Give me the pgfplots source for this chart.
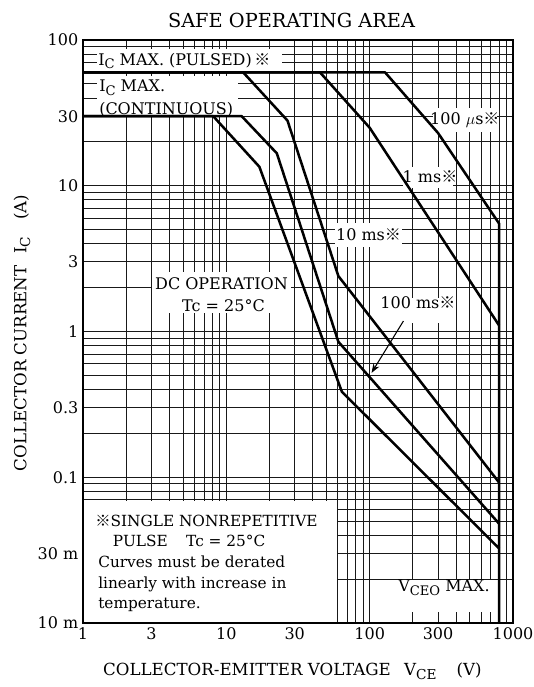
\documentclass[border=0pt]{standalone}
\usepackage{fontspec}
\setmainfont{DejaVu Serif}
\newfontfamily\cjk{Noto Sans CJK JP}
\usepackage{pgfplots}
\pgfplotsset{compat=1.18}
\usetikzlibrary{arrows.meta}
\newcommand{\kome}{{\cjk ※}}
\newcommand{\sub}[1]{\raisebox{-0.45ex}{\scalebox{0.82}{#1}}}
\newcommand{\titlefs}{\fontsize{14.5}{17}\selectfont}
\newcommand{\labfs}{\fontsize{12.5}{15}\selectfont}
\newcommand{\txtfs}{\fontsize{12}{14}\selectfont}
\newcommand{\notefs}{\fontsize{11.5}{14}\selectfont}
\begin{document}
\begin{tikzpicture}
\begin{axis}[
  xmode=log, ymode=log,
  scale only axis, width=322.5pt, height=437.25pt,
  xmin=1, xmax=1000, ymin=0.01, ymax=100,
  xtick={1,3,10,30,100,300,1000},
  xticklabels={1,3,10,30,100,300,1000},
  minor xtick={2,4,5,6,7,8,9,20,40,50,60,70,80,90,200,400,500,600,700,800,900},
  ytick={0.01,0.03,0.1,0.3,1,3,10,30,100},
  yticklabels={10 m,30 m,0.1,0.3,1,3,10,30,100},
  minor ytick={0.02,0.04,0.05,0.06,0.07,0.08,0.09,0.2,0.4,0.5,0.6,0.7,0.8,0.9,2,4,5,6,7,8,9,20,40,50,60,70,80,90},
  grid=both,
  major grid style={black!90,line width=0.7pt},
  minor grid style={black!90,line width=0.7pt},
  major tick length=0pt, minor tick length=0pt,
  tick label style={font=\fontsize{12}{14}\selectfont},
  axis line style={line width=1.5pt},
  clip=false,
]
\coordinate (SW) at (rel axis cs:0,0);
\coordinate (NE) at (rel axis cs:1,1);
% white label areas
\fill[white] (rel axis cs:0.0326,0.946) rectangle (rel axis cs:0.4628,0.9846);
\fill[white] (rel axis cs:0.0326,0.8700) rectangle (rel axis cs:0.3605,0.9390);
\fill[white] (rel axis cs:0.814,0.8422) rectangle (rel axis cs:0.962,0.8834);
\fill[white] (rel axis cs:0.7442,0.7461) rectangle (rel axis cs:0.8605,0.7822);
\fill[white] (rel axis cs:0.586,0.645) rectangle (rel axis cs:0.7419,0.686);
\fill[white] (rel axis cs:0.1605,0.5317) rectangle (rel axis cs:0.4837,0.602);
\fill[white] (rel axis cs:0.6953,0.5146) rectangle (rel axis cs:0.8605,0.5575);
\fill[white] (rel axis cs:0.714,0.0189) rectangle (rel axis cs:0.962,0.0738);
\fill[white] (rel axis cs:0,0) rectangle (rel axis cs:0.5915,0.209);
% curves
\addplot[black, line width=1.9pt, line join=round] coordinates {(1,30) (8.1,30) (17,13.5) (64,0.386) (800,0.0325)};
\addplot[black, line width=1.9pt, line join=round] coordinates {(1,30) (12.8,30) (22.5,16.7) (60.5,0.85) (800,0.048)};
\addplot[black, line width=1.9pt, line join=round] coordinates {(1,60) (13.1,60) (26.7,28) (60.5,2.4) (800,0.092)};
\addplot[black, line width=1.9pt, line join=round] coordinates {(1,60) (45,60) (100,25) (800,1.1)};
\addplot[black, line width=1.9pt, line join=round] coordinates {(1,60) (128,60) (300,23) (800,5.5) (800,0.01)};
\draw[-{Stealth[length=7pt,width=5pt]}, line width=0.8pt] (axis cs:172,1.18) -- (axis cs:103,0.52);
% texts
\node[font=\txtfs, anchor=west, inner sep=0pt] at (rel axis cs:0.0349,0.964) {I\sub{C} MAX. (PULSED)\,\kome};
\node[font=\txtfs, anchor=west, inner sep=0pt] at (rel axis cs:0.0372,0.9175) {I\sub{C} MAX.};
\node[font=\txtfs, anchor=west, inner sep=0pt] at (rel axis cs:0.0372,0.8805) {(CONTINUOUS)};
\node[font=\txtfs, inner sep=0pt] at (rel axis cs:0.888,0.8628) {100 $\mu$s\kome};
\node[font=\txtfs, inner sep=0pt] at (rel axis cs:0.807,0.7650) {1 ms\kome};
\node[font=\txtfs, inner sep=0pt] at (rel axis cs:0.664,0.6655) {10 ms\kome};
\node[font=\txtfs, inner sep=0pt] at (rel axis cs:0.322,0.5823) {DC OPERATION};
\node[font=\txtfs, inner sep=0pt] at (rel axis cs:0.3267,0.5446) {Tc = 25°C};
\node[font=\txtfs, inner sep=0pt] at (rel axis cs:0.779,0.5489) {100 ms\kome};
\node[font=\txtfs, inner sep=0pt] at (rel axis cs:0.8395,0.060) {V\sub{CEO} MAX.};
\node[font=\notefs, anchor=base west, inner sep=0pt] at (rel axis cs:0.0279,0.1652) {\kome SINGLE NONREPETITIVE};
\node[font=\notefs, anchor=base west, inner sep=0pt] at (rel axis cs:0.0691,0.1309) {PULSE\hspace{1.2em}Tc = 25°C};
\node[font=\notefs, anchor=base west, inner sep=0pt] at (rel axis cs:0.0349,0.0955) {Curves must be derated};
\node[font=\notefs, anchor=base west, inner sep=0pt] at (rel axis cs:0.0349,0.0600) {linearly with increase in};
\node[font=\notefs, anchor=base west, inner sep=0pt] at (rel axis cs:0.0349,0.0252) {temperature.};
\node[font=\titlefs] at (rel axis cs:0.4849,1.0343) {SAFE OPERATING AREA};
\node[font=\labfs] at (rel axis cs:0.4869,-0.0835) {COLLECTOR-EMITTER VOLTAGE\hspace{0.8em}V\sub{CE}\hspace{1.2em}(V)};
\node[font=\labfs, rotate=90] at (rel axis cs:-0.1419,0.4974) {COLLECTOR CURRENT\hspace{0.7em}I\sub{C}\hspace{1em}(A)};
\draw[line width=1.5pt] (rel axis cs:0,0) rectangle (rel axis cs:1,1);
\end{axis}
\pgfresetboundingbox
\path[use as bounding box] ([xshift=-62.25pt,yshift=-48pt]SW) rectangle ([xshift=15pt,yshift=30pt]NE);
\end{tikzpicture}
\end{document}
